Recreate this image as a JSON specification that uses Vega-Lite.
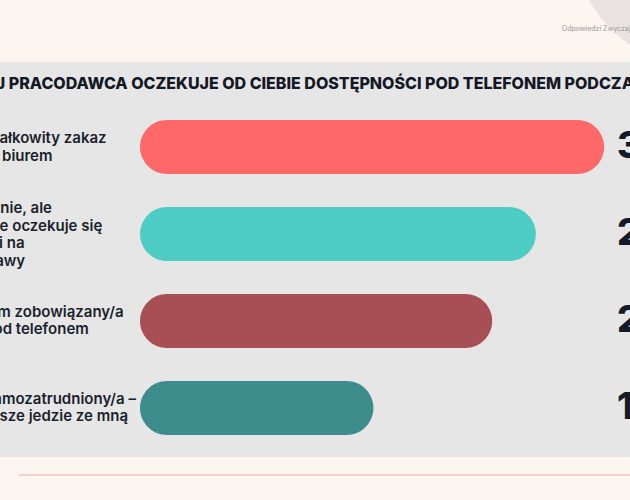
{
  "$schema": "https://vega.github.io/schema/vega-lite/v6.json",
  "width": 630,
  "height": 395,
  "autosize": {"type": "none"},
  "padding": {"top": 62, "bottom": 43, "left": 0, "right": 0},
  "background": "#fdf5f0",
  "view": {"fill": "#e6e6e6", "stroke": null},
  "config": {"font": "Inter"},
  "data": {
    "values": [
      {"id": "a", "label": ["Nie, jest całkowity zakaz", "rozmów z biurem"], "value": 34, "pct": "34%", "color": "#ff6868"},
      {"id": "b", "label": ["Oficjalnie nie, ale", "w praktyce oczekuje się", "gotowości na", "nagłe sprawy"], "value": 29, "pct": "29%", "color": "#4ecdc4"},
      {"id": "c", "label": ["Tak, jestem zobowiązany/a", "być też pod telefonem"], "value": 25.8, "pct": "26%", "color": "#a84f55"},
      {"id": "d", "label": ["Jestem samozatrudniony/a –", "firma zawsze jedzie ze mną"], "value": 17.1, "pct": "17%", "color": "#3c8c8c"}
    ]
  },
  "encoding": {
    "y": {
      "field": "id",
      "type": "nominal",
      "axis": null,
      "sort": null,
      "scale": {"paddingInner": 0.379, "paddingOuter": 0.46, "align": 0.725}
    }
  },
  "layer": [
    {
      "mark": {"type": "bar", "cornerRadius": 27},
      "encoding": {
        "x": {"field": "value", "type": "quantitative", "axis": null,
              "scale": {"domain": [-10.256, 35.897], "zero": false, "nice": false}},
        "x2": {"datum": 0},
        "color": {"field": "color", "type": "nominal", "scale": null, "legend": null}
      }
    },
    {
      "data": {"values": [{"id": "a"}]},
      "mark": {"type": "point", "shape": "circle", "filled": true, "size": 78400, "yOffset": -217, "color": "#e8e3e0", "opacity": 1},
      "encoding": {
        "x": {"datum": 41.76, "type": "quantitative"}
      }
    },
    {
      "data": {"values": [{"id": "a", "title": "CZY TWÓJ PRACODAWCA OCZEKUJE OD CIEBIE DOSTĘPNOŚCI POD TELEFONEM PODCZAS URLOPU?"}]},
      "mark": {"type": "text", "align": "left", "baseline": "middle", "dx": -82, "dy": -63, "fontSize": 16, "fontWeight": 800, "color": "#141824"},
      "encoding": {
        "x": {"datum": -10.256, "type": "quantitative"},
        "text": {"field": "title"}
      }
    },
    {
      "transform": [{"filter": "length(datum.label) == 2"}],
      "mark": {"type": "text", "align": "left", "baseline": "middle", "dx": -212, "dy": -9, "fontSize": 15, "fontWeight": 600, "lineHeight": 17.5, "color": "#1b1f2c"},
      "encoding": {
        "x": {"datum": 0, "type": "quantitative"},
        "text": {"field": "label"}
      }
    },
    {
      "transform": [{"filter": "length(datum.label) == 4"}],
      "mark": {"type": "text", "align": "left", "baseline": "middle", "dx": -212, "dy": -26, "fontSize": 15, "fontWeight": 600, "lineHeight": 17.5, "color": "#1b1f2c"},
      "encoding": {
        "x": {"datum": 0, "type": "quantitative"},
        "text": {"field": "label"}
      }
    },
    {
      "mark": {"type": "text", "align": "left", "baseline": "middle", "fontSize": 37, "fontWeight": 800, "color": "#141a2b"},
      "encoding": {
        "x": {"datum": 34.95, "type": "quantitative"},
        "text": {"field": "pct"}
      }
    },
    {
      "data": {"values": [{"note": "Odpowiedzi Zwyczaje urlopowe Polaków", "id": "a"}]},
      "mark": {"type": "text", "align": "left", "baseline": "middle", "fontSize": 7, "dy": -118, "color": "#9a9a9a"},
      "encoding": {
        "x": {"datum": 30.9, "type": "quantitative"},
        "text": {"field": "note"}
      }
    },
    {
      "data": {"values": [{"id": "d"}]},
      "mark": {"type": "rule", "color": "#f3c6bd", "strokeWidth": 1.5, "yOffset": 67},
      "encoding": {
        "x": {"datum": -8.9, "type": "quantitative"},
        "x2": {"datum": 36},
        "y": {"field": "id", "type": "nominal", "bandPosition": 0.5}
      }
    }
  ]
}
